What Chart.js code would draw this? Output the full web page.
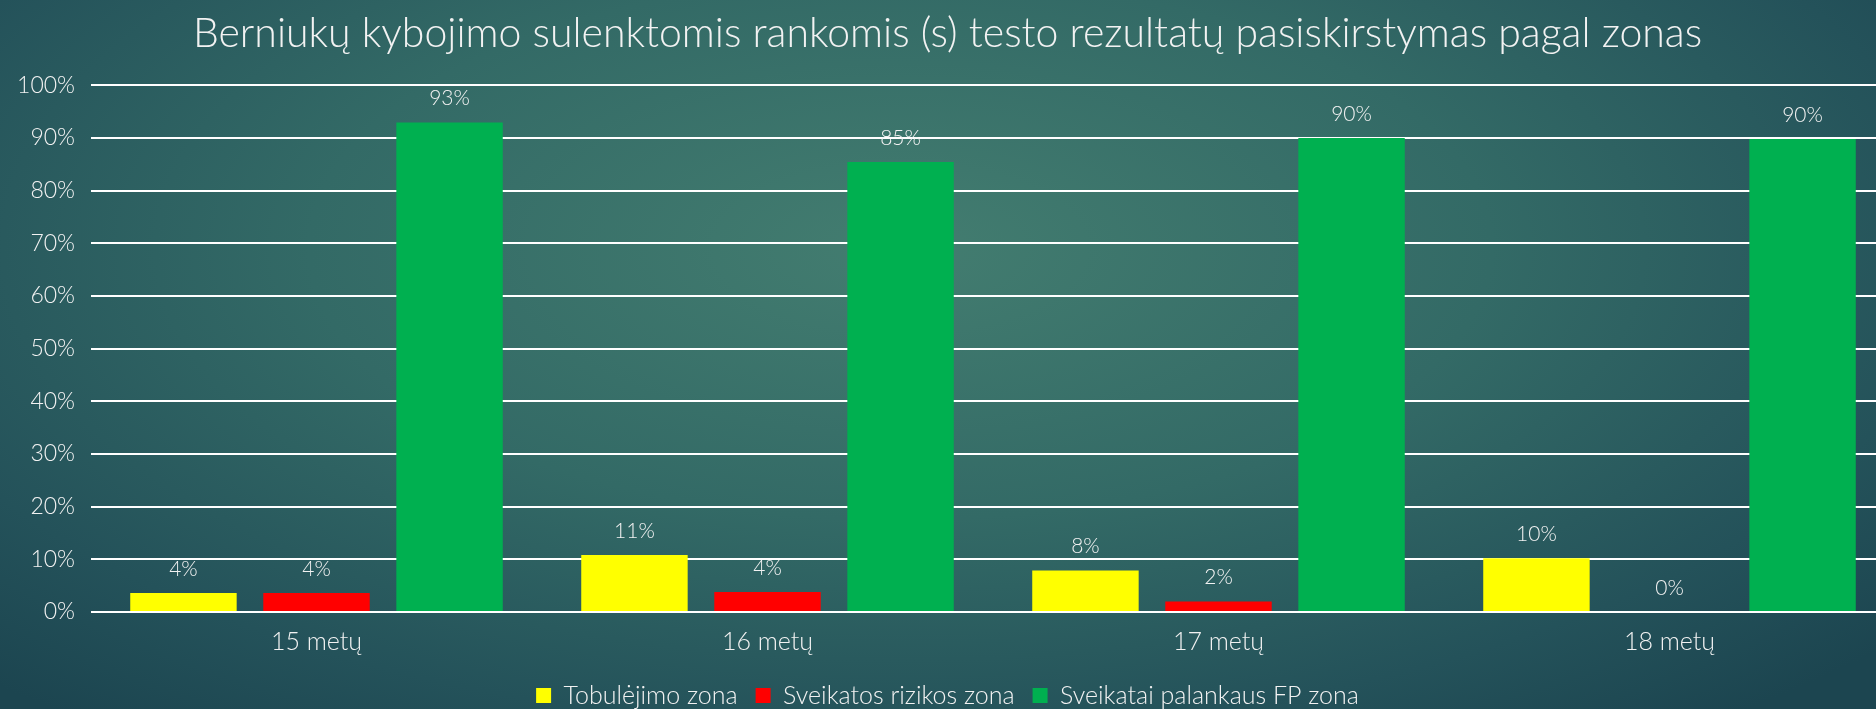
<!DOCTYPE html>
<html lang="lt">
<head>
<meta charset="utf-8">
<title>Berniukų kybojimo sulenktomis rankomis testo rezultatai</title>
<script src="https://cdn.jsdelivr.net/npm/chart.js@4.4.1/dist/chart.umd.min.js"></script>
<style>
  html, body { margin: 0; padding: 0; }
  body {
    width: 1876px;
    height: 709px;
    overflow: hidden;
    background: radial-gradient(ellipse 70% 85% at 48% 35%, #437d70 0%, #336a66 45%, #24525a 80%, #1c4550 100%);
  }
  /* the original slide cuts the plot off a little on the right */
  #wrap { position: relative; width: 1876px; height: 709px; overflow: hidden; }
</style>
</head>
<body>
<div id="wrap"><canvas id="chartZonos" width="1895" height="709"></canvas></div>
<script>
// ============================================================
// Kybojimo sulenktomis rankomis testo rezultatai pagal zonas
// ============================================================

const AMZIUS = ['15 metų', '16 metų', '17 metų', '18 metų'];
const TOBULEJIMO = [3.6, 10.8, 7.9, 10.2];
const RIZIKOS = [3.6, 3.8, 2.0, 0];
const PALANKAUS = [92.9, 85.4, 90.0, 89.8];
const Y_TICKS = [0, 10, 20, 30, 40, 50, 60, 70, 80, 90, 100];

const TEKSTAS = '#F2F2F2';
const SRIFTAS = "'Lato', 'Open Sans', sans-serif";

Chart.defaults.color = TEKSTAS;
Chart.defaults.font.family = SRIFTAS;
Chart.defaults.font.weight = 300;

// reikšmių etiketės virš stulpelių
const etiketes = {
  id: 'etiketes',
  afterDatasetsDraw(chart) {
    const { ctx } = chart;
    ctx.save();
    ctx.fillStyle = TEKSTAS;
    ctx.font = `300 21px ${SRIFTAS}`;
    ctx.textAlign = 'center';
    ctx.textBaseline = 'middle';
    chart.data.datasets.forEach((ds, i) => {
      chart.getDatasetMeta(i).data.forEach((bar, j) => {
        ctx.fillText(Math.round(ds.data[j]) + '%', bar.x, bar.y - 24);
      });
    });
    ctx.restore();
  },
};

new Chart(document.getElementById('chartZonos'), {
  type: 'bar',
  data: {
    labels: AMZIUS,
    datasets: [
      { label: 'Tobulėjimo zona', data: TOBULEJIMO, backgroundColor: '#FFFF00' },
      { label: 'Sveikatos rizikos zona', data: RIZIKOS, backgroundColor: '#FF0000' },
      { label: 'Sveikatai palankaus FP zona', data: PALANKAUS, backgroundColor: '#00B050' },
    ],
  },
  options: {
    responsive: false,
    animation: false,
    devicePixelRatio: 1,
    categoryPercentage: 0.885,
    barPercentage: 0.8,
    layout: { padding: { left: 0, right: 0, top: 0, bottom: -9 } },
    plugins: {
      tooltip: { enabled: false },
      title: {
        display: true,
        text: 'Berniukų kybojimo sulenktomis rankomis (s) testo rezultatų pasiskirstymas pagal zonas',
        color: TEKSTAS,
        font: { size: 41, weight: 300 },
        padding: { top: 9, bottom: 27 },
      },
      legend: {
        position: 'bottom',
        labels: {
          boxWidth: 15,
          boxHeight: 15,
          padding: 18,
          font: { size: 25 },
          color: TEKSTAS,
          useBorderRadius: false,
        },
      },
    },
    scales: {
      x: {
        grid: { display: false },
        border: { display: false },
        ticks: { font: { size: 25 }, padding: 7 },
        afterFit(scale) { scale.height = 53; },
      },
      y: {
        min: 0,
        max: 100,
        afterBuildTicks(scale) { scale.ticks = Y_TICKS.map((v) => ({ value: v })); },
        grid: { color: '#FFFFFF', lineWidth: 2, drawTicks: false },
        border: { display: false },
        ticks: { font: { size: 23 }, padding: 16, callback: (v) => v + '%' },
        afterFit(scale) { scale.width = 91; },
      },
    },
  },
  plugins: [etiketes],
});
</script>
</body>
</html>
